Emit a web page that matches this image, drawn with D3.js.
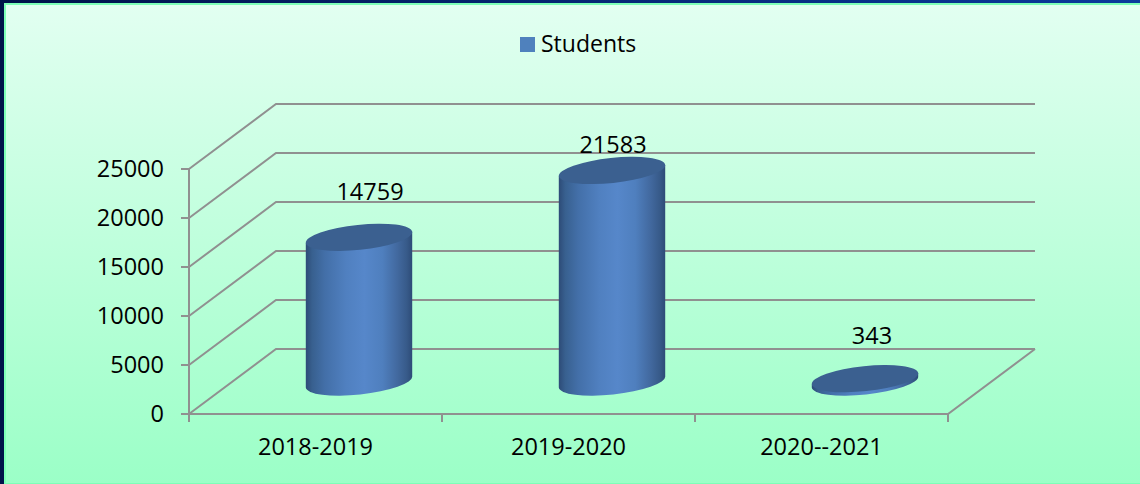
<!DOCTYPE html>
<html lang="en">
<head>
<meta charset="UTF-8">
<title>Students</title>
<script src="https://d3js.org/d3.v7.min.js"></script>
<style>
    html, body { margin: 0; padding: 0; background: #00124a; overflow: hidden; }
    svg { display: block; font-family: "Open Sans", sans-serif; }
    .grid { fill: none; stroke: #909090; stroke-width: 2; }
    text { fill: #000; font-size: 23.5px; }
    .legend-label { font-size: 23px; }
</style>
</head>
<body>
<div id="chart"></div>
<script>
// Valeurs
const categories = ["2018-2019", "2019-2020", "2020--2021"];
const students = [14759, 21583, 343];
const yTicks = [0, 5000, 10000, 15000, 20000, 25000];
const seriesName = "Students";

const width = 1140, height = 484;
const depth = { x: 87, y: -65 };   // decalage fond / facade du plancher 3D
const floorFront = { left: 189, right: 948, y: 414 };

const svg = d3.select("#chart").append("svg").attr("width", width).attr("height", height);
const defs = svg.append("defs");

const frame = defs.append("linearGradient").attr("id", "frame").attr("x1", 0).attr("x2", 1).attr("y1", 0).attr("y2", 0);
frame.append("stop").attr("offset", "0%").attr("stop-color", "#00124a");
frame.append("stop").attr("offset", "100%").attr("stop-color", "#0a3a9c");

const bg = defs.append("linearGradient").attr("id", "bg").attr("x1", 0).attr("x2", 0).attr("y1", 0).attr("y2", 1);
bg.append("stop").attr("offset", "0%").attr("stop-color", "#e2fff1");
bg.append("stop").attr("offset", "100%").attr("stop-color", "#9bffc7");

const body = defs.append("linearGradient").attr("id", "cyl").attr("x1", 0).attr("x2", 1).attr("y1", 0).attr("y2", 0);
[[0, "#2d4b77"], [6, "#38608f"], [18, "#436fa8"], [38, "#5080c0"], [55, "#5687ca"],
 [72, "#4f7fbe"], [86, "#42699f"], [95, "#375a89"], [100, "#2d4b77"]].forEach(([o, c]) => {
    body.append("stop").attr("offset", o + "%").attr("stop-color", c);
});

// fond + bordures
svg.append("rect").attr("width", width).attr("height", height).attr("fill", "url(#frame)");
svg.append("rect").attr("x", 4).attr("y", 3).attr("width", width - 4).attr("height", height - 3).attr("fill", "#7dffb8");
svg.append("rect").attr("x", 6).attr("y", 5).attr("width", width - 6).attr("height", height - 6).attr("fill", "url(#bg)");

const x = d3.scaleBand().domain(categories).range([floorFront.left, floorFront.right]);
const y = d3.scaleLinear().domain([0, 25000]).range([floorFront.y, 169]);

// grille arriere + parois
const grid = svg.append("g").attr("class", "grid");
yTicks.forEach(t => {
    const path = d3.path();
    path.moveTo(floorFront.left, y(t));
    path.lineTo(floorFront.left + depth.x, y(t) + depth.y);
    path.lineTo(floorFront.right + depth.x, y(t) + depth.y);
    grid.append("path").attr("d", path.toString());
});

// plancher
const floor = d3.path();
floor.moveTo(floorFront.left, floorFront.y);
floor.lineTo(floorFront.right, floorFront.y);
floor.lineTo(floorFront.right + depth.x, floorFront.y + depth.y);
grid.append("path").attr("d", floor.toString());

// axe vertical, graduations
grid.append("path").attr("d", `M${floorFront.left},${y(25000)}V${floorFront.y + 8}`);
yTicks.forEach(t => {
    grid.append("path").attr("d", `M${floorFront.left - 8},${y(t)}H${floorFront.left}`);
    svg.append("text").attr("x", 164).attr("y", y(t)).attr("dy", "0.36em")
        .attr("text-anchor", "end").text(t);
});
x.domain().forEach(c => {
    grid.append("path").attr("d", `M${x(c)},${floorFront.y}v8`);
});
grid.append("path").attr("d", `M${floorFront.right},${floorFront.y}v8`);

categories.forEach(c => {
    svg.append("text").attr("x", x(c) + x.bandwidth() / 2).attr("y", 446.5).attr("dy", "0.36em")
        .attr("text-anchor", "middle").text(c);
});

// cylindres
const rx = 53.5, ry = 12.5, tilt = -6;
const rad = tilt * Math.PI / 180;
const tanX = rx * Math.cos(rad), tanY = rx * Math.sin(rad);
const baseY = y(0) - 32;
const h = y(0) - y(1);

const bars = svg.append("g").selectAll("g").data(students).join("g")
    .attr("transform", (d, i) => `translate(${x(categories[i]) + x.bandwidth() / 2 + depth.x / 2},0)`);

bars.append("path")
    .attr("fill", "url(#cyl)")
    .attr("d", d => {
        const top = baseY - d * h;
        return `M${-tanX},${top - tanY}L${-tanX},${baseY - tanY}`
            + `A${rx},${ry} ${tilt} 0 0 ${tanX},${baseY + tanY}`
            + `L${tanX},${top + tanY}Z`;
    });

bars.append("ellipse")
    .attr("rx", rx).attr("ry", ry)
    .attr("fill", "#3b6090")
    .attr("transform", d => `translate(0,${baseY - d * h}) rotate(${tilt})`);

// etiquettes de valeur
const labelPos = [{ x: 370, y: 192 }, { x: 613, y: 145 }, { x: 872, y: 336 }];
students.forEach((d, i) => {
    svg.append("text").attr("x", labelPos[i].x).attr("y", labelPos[i].y).attr("dy", "0.36em")
        .attr("text-anchor", "middle").text(d);
});

// legende
svg.append("rect").attr("x", 520).attr("y", 37).attr("width", 15).attr("height", 15).attr("fill", "#4f81bd");
svg.append("text").attr("class", "legend-label").attr("x", 541).attr("y", 44).attr("dy", "0.36em").text(seriesName);
</script>
</body>
</html>
